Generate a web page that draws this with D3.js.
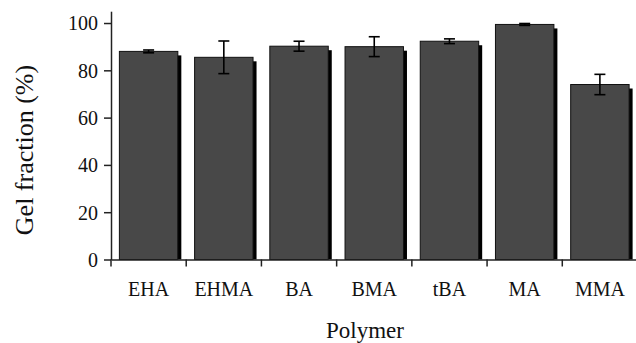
<!DOCTYPE html>
<html><head><meta charset="utf-8">
<script src="https://cdn.jsdelivr.net/npm/d3@7"></script>
<style>body{margin:0;background:#fff}svg{display:block}</style>
</head><body>
<svg id="c" width="636" height="343"></svg>
<script>
const categories = ["EHA","EHMA","BA","BMA","tBA","MA","MMA"];
const values = [88.0, 85.5, 90.2, 90.0, 92.3, 99.4, 74.0];
const errors = [0.6, 6.9, 2.1, 4.2, 1.0, 0.4, 4.3];
const yTicks = [0,20,40,60,80,100];

const svg = d3.select("#c");
const font = "'Liberation Serif','Times New Roman',serif";
const mLeft = 111, mRight = 637.5, mTop = 11.2, mBottom = 259.5;

const x = d3.scaleBand().domain(categories).range([mLeft, mRight]).padding(0);
const y = d3.scaleLinear().domain([0,105]).range([mBottom, mTop]);
const bw = x.bandwidth()*0.777;
const off = (x.bandwidth()-bw)/2;

const data = categories.map((c,i)=>({c, v: values[i], e: errors[i]}));

// shadows
svg.append("g").selectAll("rect").data(data).join("rect")
  .attr("x", d=>x(d.c)+off+3.5).attr("y", d=>y(d.v)+4)
  .attr("width", bw).attr("height", d=>mBottom - y(d.v)-4)
  .attr("fill","#000");
// bars
svg.append("g").selectAll("rect").data(data).join("rect")
  .attr("x", d=>x(d.c)+off).attr("y", d=>y(d.v))
  .attr("width", bw).attr("height", d=>mBottom - y(d.v))
  .attr("fill","#484848").attr("stroke","#111").attr("stroke-width",1);

// error bars
const eg = svg.append("g").attr("stroke","#000").attr("stroke-width",1.6);
data.forEach(d=>{
  const cx = x(d.c)+x.bandwidth()/2;
  eg.append("line").attr("x1",cx).attr("x2",cx).attr("y1",y(d.v+d.e)).attr("y2",y(d.v-d.e));
  [d.v+d.e, d.v-d.e].forEach(t=>eg.append("line").attr("x1",cx-5.5).attr("x2",cx+5.5).attr("y1",y(t)).attr("y2",y(t)));
});

// y axis
const ya = svg.append("g").attr("transform",`translate(${mLeft},0)`)
  .call(d3.axisLeft(y).tickValues(yTicks).tickSize(7).tickPadding(6).tickSizeOuter(0));
ya.select(".domain").attr("stroke","#222").attr("stroke-width",1.5);
ya.selectAll(".tick line").attr("stroke","#222").attr("stroke-width",1.5);
ya.selectAll("text").attr("font-family",font).attr("font-size",20).attr("fill","#111").attr("dy","0.34em");

// x axis
const xa = svg.append("g").attr("transform",`translate(0,${mBottom})`)
  .call(d3.axisBottom(x).tickSize(0).tickPadding(22).tickSizeOuter(0));
xa.select(".domain").attr("stroke","#222").attr("stroke-width",1.5);
xa.selectAll("text").attr("font-family",font).attr("font-size",20).attr("fill","#111");
// boundary ticks
svg.append("g").selectAll("line").data(categories).join("line")
  .attr("x1", d=>x(d)).attr("x2", d=>x(d))
  .attr("y1", mBottom).attr("y2", mBottom+7)
  .attr("stroke","#222").attr("stroke-width",1.5);

// axis titles
svg.append("text").attr("x",365).attr("y",337.5).attr("text-anchor","middle")
  .attr("font-family",font).attr("font-size",23).attr("fill","#111").text("Polymer");
svg.append("text").attr("transform","translate(33,150) rotate(-90)").attr("text-anchor","middle")
  .attr("font-family",font).attr("font-size",26).attr("fill","#111").text("Gel fraction (%)");
</script>
</body></html>
